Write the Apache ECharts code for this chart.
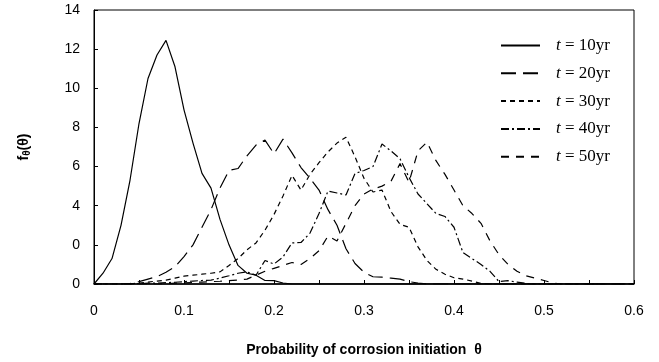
<!DOCTYPE html>
<html>
<head>
<meta charset="utf-8">
<script src="https://cdn.jsdelivr.net/npm/echarts@6/dist/echarts.min.js"></script>
<style>
html,body{margin:0;padding:0;background:#fff;}
#c{width:659px;height:362px;}
</style>
</head>
<body>
<div id="c"></div>
<script>
const theta = [0.00,0.01,0.02,0.03,0.04,0.05,0.06,0.07,0.08,0.09,0.10,0.11,0.12,0.13,0.14,0.15,0.16,0.17,0.18,0.19,0.20,0.21,0.22,0.23,0.24,0.25,0.26,0.27,0.28,0.29,0.30,0.31,0.32,0.33,0.34,0.35,0.36,0.37,0.38,0.39,0.40,0.41,0.42,0.43,0.44,0.45,0.46,0.47,0.48,0.49,0.50,0.51,0.52,0.53,0.54,0.55,0.56,0.57,0.58,0.59,0.60];

const t10 = [0,0.55,1.3,3.0,5.3,8.2,10.5,11.7,12.45,11.1,8.9,7.2,5.65,4.9,3.3,2.0,0.95,0.55,0.45,0.18,0.17,0.05,
  0,0,0,0,0,0,0,0,0,0,0,0,0,0,0,0,0,0,0,0,0,0,0,0,0,0,0,0,0,0,0,0,0,0,0,0,0,0,0];
const t20 = [0,0,0,0,0.02,0.12,0.25,0.38,0.6,0.88,1.4,2.0,2.9,3.8,4.9,5.8,5.9,6.55,7.1,7.35,6.65,7.4,6.7,5.95,5.4,4.8,3.8,3.0,1.8,1.05,0.6,0.37,0.35,0.3,0.25,0.12,0.05,
  0,0,0,0,0,0,0,0,0,0,0,0,0,0,0,0,0,0,0,0,0,0,0,0];
const t30 = [0,0,0,0,0,0.05,0.1,0.15,0.2,0.3,0.4,0.45,0.5,0.55,0.62,0.95,1.3,1.75,2.1,2.75,3.55,4.5,5.55,4.8,5.6,6.2,6.75,7.2,7.5,6.5,5.4,4.7,4.8,3.7,3.05,2.9,1.9,1.2,0.75,0.5,0.32,0.25,0.15,0.03,
  0,0,0,0,0,0,0,0,0,0,0,0,0,0,0,0,0];
const t40 = [0,0,0,0,0,0.02,0.04,0.05,0.07,0.09,0.12,0.15,0.18,0.2,0.3,0.42,0.55,0.62,0.45,1.2,1.02,1.38,2.1,2.12,2.6,3.6,4.75,4.65,4.55,5.65,5.8,6.0,7.15,6.8,6.4,5.45,4.6,4.1,3.6,3.45,2.9,1.6,1.3,1.0,0.65,0.12,0.17,0.1,0.03,
  0,0,0,0,0,0,0,0,0,0,0,0];
const t50 = [0,0,0,0,0,0,0,0,0.02,0.04,0.06,0.08,0.1,0.12,0.14,0.17,0.2,0.25,0.45,0.65,0.8,0.95,1.1,1.0,1.3,1.7,2.45,2.2,3.1,4.0,4.6,4.85,5.0,5.25,6.15,5.2,6.8,7.25,6.3,5.6,4.8,4.0,3.6,3.1,2.2,1.5,1.0,0.65,0.42,0.3,0.18,0.05,
  0,0,0,0,0,0,0,0,0];

const seriesNames = ['t = 10yr','t = 20yr','t = 30yr','t = 40yr','t = 50yr'];
const seriesValues = [t10, t20, t30, t40, t50];
const xTickLabels = ['0','0.1','0.2','0.3','0.4','0.5','0.6'];
const yTickLabels = ['0','0','4','6','8','10','12','14'];

const dashTypes = ['solid', [15,7], [5,4], [8,3,2,3], [8,7]];

const series = seriesNames.map((name, i) => ({
  name: name,
  type: 'line',
  data: theta.map((x, k) => [x, seriesValues[i][k]]),
  showSymbol: false,
  symbol: 'none',
  lineStyle: { color: '#000', width: 1.2, type: dashTypes[i] },
  itemStyle: { color: '#000' },
  z: 3
}));

const chart = echarts.init(document.getElementById('c'), null, { renderer: 'canvas' });
chart.setOption({
  animation: false,
  backgroundColor: '#fff',
  grid: { left: 94, right: 25, top: 10, bottom: 73, show: true, borderColor: '#000', borderWidth: 1, containLabel: false },
  legend: {
    orient: 'vertical',
    left: 500,
    top: 37,
    padding: 0,
    itemWidth: 39,
    itemHeight: 14,
    itemGap: 10.8,
    itemStyle: { opacity: 0, borderWidth: 0 },
    data: seriesNames.map(n => ({ name: n })),
    formatter: function (name) { return '{it|t}{n|' + name.slice(1) + '}'; },
    textStyle: {
      padding: [0, 0, 0, 11],
      rich: {
        it: { fontFamily: 'Liberation Serif', fontStyle: 'italic', fontSize: 17, color: '#000' },
        n: { fontFamily: 'Liberation Serif', fontSize: 17, color: '#000' }
      }
    }
  },
  xAxis: {
    type: 'value',
    min: 0, max: 0.6, interval: 0.05,
    name: 'Probability of corrosion initiation  θ',
    nameLocation: 'middle',
    nameGap: 59,
    nameTextStyle: { fontFamily: 'Liberation Sans', fontWeight: 'bold', fontSize: 14, color: '#000' },
    axisLine: { lineStyle: { color: '#000', width: 1.5 } },
    axisTick: { inside: true, length: 4, lineStyle: { color: '#000' } },
    axisLabel: {
      margin: 20,
      fontFamily: 'Liberation Sans', fontSize: 14, color: '#000',
      formatter: function (v) {
        const k = Math.round(v * 100);
        if (k % 10 !== 0) return '';
        return xTickLabels[k / 10];
      }
    },
    splitLine: { show: false }
  },
  yAxis: {
    type: 'value',
    min: 0, max: 14, interval: 2,
    name: '{a|f}{s|θ}{a|(θ)}',
    nameLocation: 'middle',
    nameGap: 62,
    nameRotate: 90,
    nameTextStyle: {
      rich: {
        a: { fontFamily: 'Liberation Sans', fontWeight: 'bold', fontSize: 14, color: '#000' },
        s: { fontFamily: 'Liberation Sans', fontWeight: 'bold', fontSize: 10, color: '#000', verticalAlign: 'bottom', padding: [6, 0, 0, 0] }
      }
    },
    axisLine: { show: true, lineStyle: { color: '#000', width: 1 } },
    axisTick: { show: true, inside: true, length: 4, lineStyle: { color: '#000' } },
    axisLabel: {
      margin: 14,
      fontFamily: 'Liberation Sans', fontSize: 14, color: '#000',
      formatter: function (v) { return yTickLabels[Math.round(v / 2)]; }
    },
    splitLine: { show: false }
  },
  series: series
});
</script>
</body>
</html>
